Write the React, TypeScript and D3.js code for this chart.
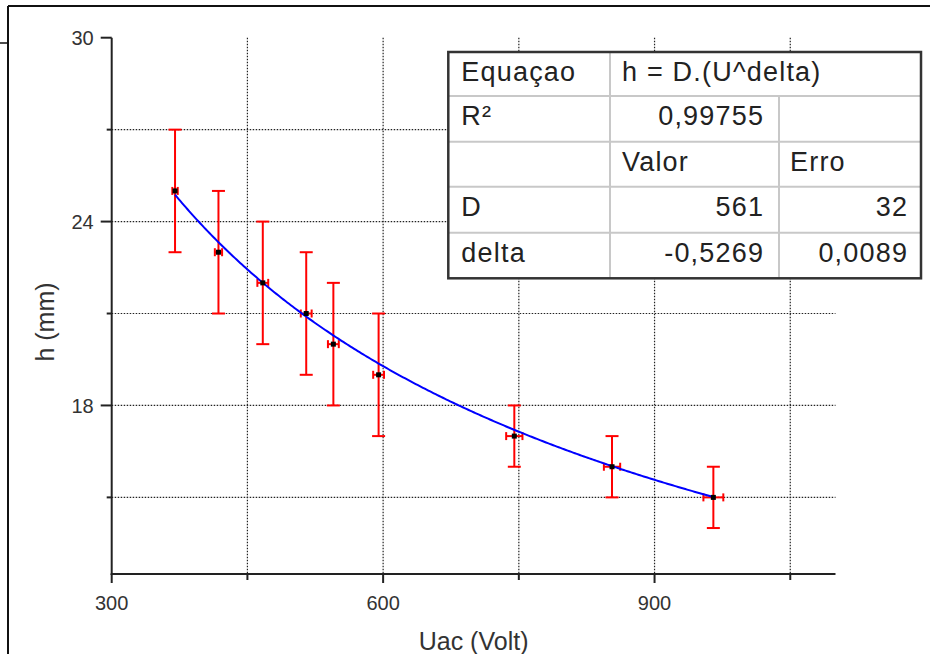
import React from "react";
import * as d3 from "d3";

const voltage = [370, 418, 467, 515, 545, 595, 745, 853, 965];
const height = [25, 23, 22, 21, 20, 19, 17, 16, 15];
const heightErr = [2, 2, 2, 2, 2, 2, 1, 1, 1];
const voltageErr = [3, 4, 6, 6, 6, 6, 9, 9, 11];

const fitD = 561;
const fitDelta = -0.5269;

const xMajorTicks = [300, 600, 900];
const xMinorTicks = [450, 750, 1050];
const yMajorTicks = [30, 24, 18];
const yMinorTicks = [27, 21, 15];

const tableRows = [
  ["Equaçao", "h = D.(U^delta)", ""],
  ["R²", "0,99755", ""],
  ["", "Valor", "Erro"],
  ["D", "561", "32"],
  ["delta", "-0,5269", "0,0089"],
];

const W = 930;
const H = 654;
const FONT = "'Liberation Sans', Arial, Helvetica, sans-serif";

export default function App() {
  const x = d3.scaleLinear().domain([300, 1100]).range([111.7, 835.5]);
  const y = d3.scaleLinear().domain([12.5, 30]).range([574, 37.7]);
  const [x0, x1] = x.range();
  const [yb, yt] = y.range();

  const fitXs = d3.range(voltage[0], voltage[voltage.length - 1] + 0.001, 2);
  const line = d3
    .line<number>()
    .x((u) => x(u))
    .y((u) => y(fitD * Math.pow(u, fitDelta)))
    .curve(d3.curveLinear);

  const gridX = [...xMinorTicks, ...xMajorTicks].filter((v) => v !== 300);
  const gridY = [...yMinorTicks, ...yMajorTicks].filter((v) => v !== 30);

  // table geometry
  const tL = 448.3, tR = 921, tT = 52;
  const colX = [tL, 610, 779, tR];
  const rowY = [52, 96, 141.7, 186.7, 232.7, 278.3];
  const ls = 1.2;

  return (
    <svg
      width={W}
      height={H}
      style={{ position: "absolute", left: 0, top: 0, background: "#fff" }}
      fontFamily={FONT}
    >
      <rect x={0} y={0} width={W} height={H} fill="#fff" />
      {/* outer frame */}
      <line x1={8} y1={6} x2={W} y2={6} stroke="#111" strokeWidth={2} />
      <line x1={8} y1={6} x2={8} y2={H} stroke="#111" strokeWidth={2} />
      <line x1={0} y1={43} x2={8} y2={43} stroke="#111" strokeWidth={1.5} />

      {/* grid */}
      {gridX.map((v) => (
        <line key={"gx" + v} x1={x(v)} x2={x(v)} y1={yt} y2={yb} stroke="#222" strokeWidth={1.2} strokeDasharray="1.5,1.5" />
      ))}
      {gridY.map((v) => (
        <line key={"gy" + v} x1={x0} x2={x1} y1={y(v)} y2={y(v)} stroke="#222" strokeWidth={1.2} strokeDasharray="1.5,1.5" />
      ))}

      {/* axes */}
      <line x1={x0} x2={x0} y1={yt} y2={yb + 1} stroke="#222" strokeWidth={2} />
      <line x1={x0 - 1} x2={x1} y1={yb} y2={yb} stroke="#222" strokeWidth={2} />
      {yMajorTicks.map((v) => (
        <g key={"ym" + v}>
          <line x1={x0 - 11} x2={x0} y1={y(v)} y2={y(v)} stroke="#222" strokeWidth={2} />
          <text x={x0 - 18} y={y(v)} dy="0.36em" textAnchor="end" fontSize={20} fill="#333">{v}</text>
        </g>
      ))}
      {yMinorTicks.map((v) => (
        <line key={"yn" + v} x1={x0 - 5} x2={x0} y1={y(v)} y2={y(v)} stroke="#222" strokeWidth={2} />
      ))}
      {xMajorTicks.map((v) => (
        <g key={"xm" + v}>
          <line x1={x(v)} x2={x(v)} y1={yb} y2={yb + 9} stroke="#222" strokeWidth={2} />
          <text x={x(v)} y={610} textAnchor="middle" fontSize={20} fill="#333">{v}</text>
        </g>
      ))}
      {xMinorTicks.map((v) => (
        <line key={"xn" + v} x1={x(v)} x2={x(v)} y1={yb} y2={yb + 6} stroke="#222" strokeWidth={2} />
      ))}

      {/* axis titles */}
      <text x={(x0 + x1) / 2} y={650} textAnchor="middle" fontSize={25} fill="#333">Uac (Volt)</text>
      <text transform={`translate(54,322) rotate(-90)`} textAnchor="middle" fontSize={25} fill="#333">h (mm)</text>

      {/* error bars */}
      {voltage.map((u, i) => {
        const cx = x(u);
        const cy = y(height[i]);
        const ty = y(height[i] + heightErr[i]);
        const by = y(height[i] - heightErr[i]);
        const lx = x(u - voltageErr[i]);
        const rx = x(u + voltageErr[i]);
        return (
          <g key={"eb" + i} stroke="#ff0000" strokeWidth={2}>
            <line x1={cx} x2={cx} y1={ty} y2={by} />
            <line x1={cx - 6.5} x2={cx + 6.5} y1={ty} y2={ty} />
            <line x1={cx - 6.5} x2={cx + 6.5} y1={by} y2={by} />
            <line x1={lx} x2={rx} y1={cy} y2={cy} />
            <line x1={lx} x2={lx} y1={cy - 4} y2={cy + 4} />
            <line x1={rx} x2={rx} y1={cy - 4} y2={cy + 4} />
          </g>
        );
      })}

      {/* fit */}
      <path d={line(fitXs) || ""} fill="none" stroke="#0000ff" strokeWidth={2} />

      {/* markers */}
      {voltage.map((u, i) => (
        <rect key={"pt" + i} x={x(u) - 2.5} y={y(height[i]) - 2.5} width={5} height={5} fill="#000" />
      ))}

      {/* table */}
      <rect x={tL} y={tT} width={tR - tL} height={rowY[5] - tT} fill="#fff" />
      {rowY.slice(1, 5).map((ry, i) => (
        <line key={"tr" + i} x1={tL} x2={tR} y1={ry} y2={ry} stroke="#c8c8c8" strokeWidth={2} />
      ))}
      <line x1={colX[1]} x2={colX[1]} y1={tT} y2={rowY[5]} stroke="#c8c8c8" strokeWidth={2} />
      <line x1={colX[2]} x2={colX[2]} y1={rowY[1]} y2={rowY[5]} stroke="#c8c8c8" strokeWidth={2} />
      <rect x={tL} y={tT} width={tR - tL} height={rowY[5] - tT} fill="none" stroke="#333" strokeWidth={2.5} />
      {tableRows.map((row, r) => {
        const base = rowY[r] + 29;
        const numeric = r === 1 || r >= 3;
        return (
          <g key={"row" + r} fontSize={27} fill="#222" letterSpacing={ls}>
            <text x={colX[0] + 13} y={base}>{row[0]}</text>
            {numeric ? (
              <text x={colX[2] - 16 + ls} y={base} textAnchor="end">{row[1]}</text>
            ) : (
              <text x={colX[1] + 12} y={base}>{row[1]}</text>
            )}
            {numeric ? (
              <text x={colX[3] - 14 + ls} y={base} textAnchor="end">{row[2]}</text>
            ) : (
              <text x={colX[2] + 11} y={base}>{row[2]}</text>
            )}
          </g>
        );
      })}
    </svg>
  );
}
